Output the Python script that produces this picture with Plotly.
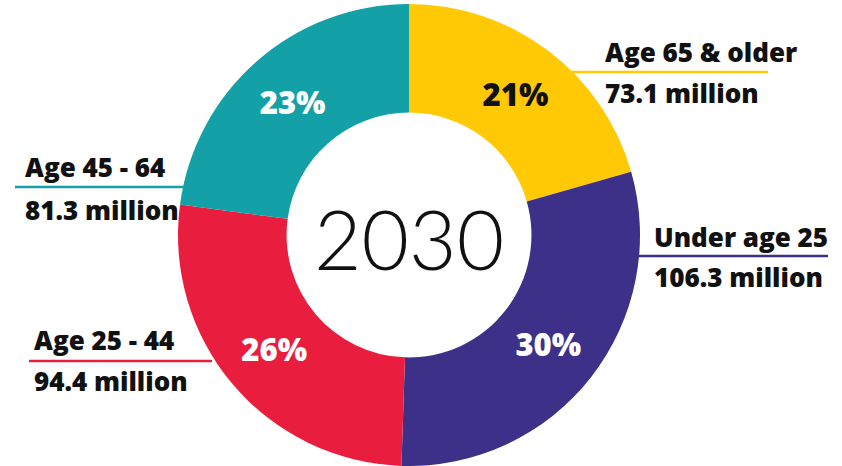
import plotly.graph_objects as go

# ── Data ───────────────────────────────────────────────────────────────────
groups = ["Age 65 & older", "Under age 25", "Age 25 - 44", "Age 45 - 64"]
millions = [73.1, 106.3, 94.4, 81.3]
pct_labels = ["21%", "30%", "26%", "23%"]
colors = ["#FFCA05", "#3C3088", "#E91D3D", "#14A0A7"]
center_text = "2030"

W, H = 842, 466
BOLD = "Open Sans, Lato, sans-serif"
D = 462  # pie domain size in px

fig = go.Figure(go.Pie(
    labels=groups,
    values=millions,
    text=pct_labels,
    textinfo="text",
    textposition="inside",
    insidetextorientation="horizontal",
    textfont=dict(size=31, color=["#111111", "white", "white", "white"],
                  family=BOLD, weight=800),
    marker=dict(colors=colors, line=dict(width=0)),
    hole=0.53,
    sort=False,
    direction="clockwise",
    rotation=0,
    showlegend=False,
    domain=dict(x=[(409 - D / 2) / W, (409 + D / 2) / W], y=[0, D / H]),
))

# label blocks: (name, value, text x, name y, line y, line x0, line x1, value y)
blocks = [
    (groups[0], millions[0], 603, 52, 72, 567, 768, 93, colors[0]),
    (groups[1], millions[1], 652, 237, 256, 636, 828, 277, colors[1]),
    (groups[3], millions[3], 23, 167, 187, 15, 186, 210, colors[3]),
    (groups[2], millions[2], 32, 340, 361, 29, 212, 381, colors[2]),
]

for name, val, tx, ny, ly, lx0, lx1, vy, col in blocks:
    fig.add_shape(type="line", xref="paper", yref="paper",
                  x0=lx0 / W, x1=lx1 / W, y0=1 - ly / H, y1=1 - ly / H,
                  line=dict(color=col, width=2.5), layer="above")
    fig.add_annotation(x=tx / W, y=1 - ny / H, xref="paper", yref="paper",
                       text=name, showarrow=False, xanchor="left", yanchor="middle",
                       font=dict(size=26, color="#111111", family=BOLD, weight=800))
    fig.add_annotation(x=tx / W, y=1 - vy / H, xref="paper", yref="paper",
                       text=f"{val} million", showarrow=False, xanchor="left",
                       yanchor="middle",
                       font=dict(size=26, color="#111111", family=BOLD, weight=800))

fig.add_annotation(x=409 / W, y=1 - 238 / H, xref="paper", yref="paper",
                   text=center_text, showarrow=False, xanchor="center", yanchor="middle",
                   font=dict(size=82, color="#111111", family="Lato, Roboto, sans-serif",
                             weight=300))

fig.update_layout(
    width=W, height=H,
    margin=dict(l=0, r=0, t=0, b=0),
    paper_bgcolor="white",
    plot_bgcolor="white",
)

fig.write_html("out.html", config={"displayModeBar": False},
               post_script="document.body.style.margin='0';")
